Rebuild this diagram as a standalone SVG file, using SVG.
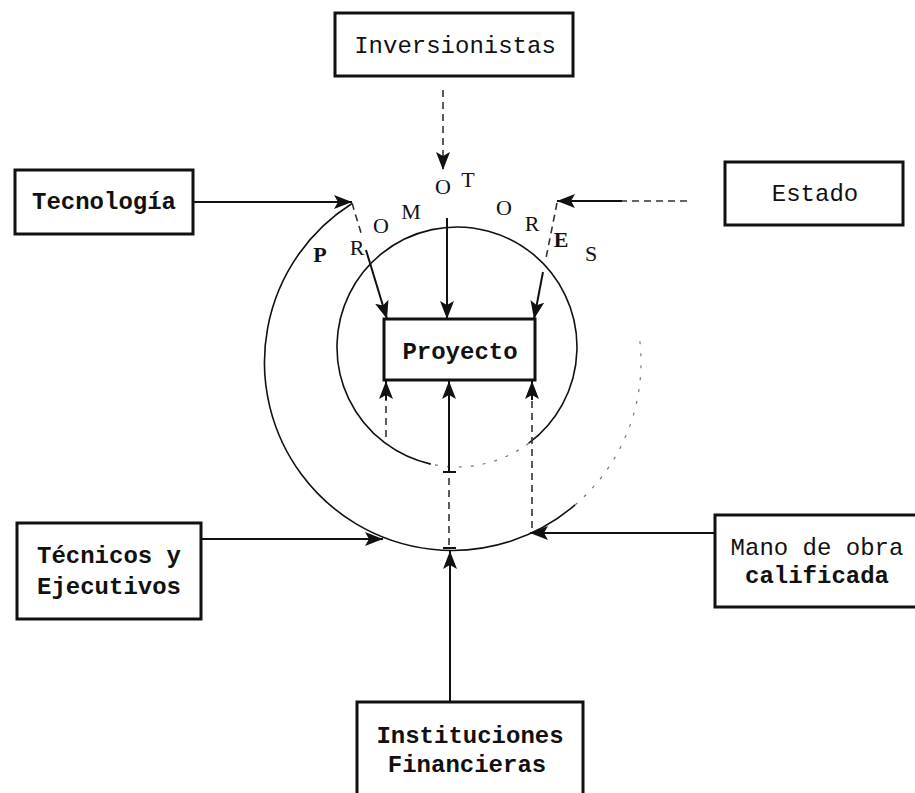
<svg xmlns="http://www.w3.org/2000/svg" width="915" height="793" viewBox="0 0 915 793">
<defs>
<style>
.box{fill:#fff;stroke:#111;stroke-width:3}
.t{font-family:"Liberation Mono","DejaVu Sans Mono",monospace;font-size:24px;fill:#111;text-anchor:middle}
.b{font-weight:bold}
.pl{font-family:"Liberation Serif","DejaVu Serif",serif;font-size:22px;fill:#111;text-anchor:middle}
.c{fill:none;stroke:#111;stroke-width:2}
.d{fill:none;stroke:#333;stroke-width:1.6;stroke-dasharray:7 5}
.ring{fill:none;stroke:#111;stroke-width:1.6}
.faint{fill:none;stroke:#777;stroke-width:1.2;stroke-dasharray:3 9}
</style>
<marker id="ah" markerUnits="userSpaceOnUse" markerWidth="20" markerHeight="14" refX="18" refY="7" orient="auto">
<path d="M0,0 L18,7 L0,14 L4,7 Z" fill="#111"/>
</marker>
</defs>
<rect width="915" height="793" fill="#fff"/>

<g id="promotores">
<path class="ring" d="M352,203.5 A188,188 0 1 0 575.1,504.9"/>
<path class="faint" d="M575.1,504.9 A188,188 0 0 0 639.2,335.8"/>
<path class="ring" d="M430.8,464.1 A120,120 0 1 1 528.7,443.2"/>
<path class="faint" d="M528.7,443.2 A120,120 0 0 1 430.8,464.1"/>
<text class="pl" x="320" y="262" font-weight="bold">P</text>
<text class="pl" x="357" y="255">R</text>
<text class="pl" x="381" y="233">O</text>
<text class="pl" x="411" y="219">M</text>
<text class="pl" x="443" y="194">O</text>
<text class="pl" x="468" y="187">T</text>
<text class="pl" x="504" y="215">O</text>
<text class="pl" x="532" y="231">R</text>
<text class="pl" x="561" y="247" font-weight="bold">E</text>
<text class="pl" x="591" y="261">S</text>
</g>

<g id="connectors">
<path class="d" d="M443,90 V170" marker-end="url(#ah)"/>
<path class="c" d="M193,202 H352" marker-end="url(#ah)"/>
<path class="d" d="M687,201 H620"/>
<path class="c" d="M622,201 H557" marker-end="url(#ah)"/>
<path class="c" d="M202,539 H383" marker-end="url(#ah)"/>
<path class="c" d="M715,533 H530" marker-end="url(#ah)"/>
<path class="c" d="M450,702 V551" marker-end="url(#ah)"/>
<path class="c" d="M447,218 V319" marker-end="url(#ah)"/>
<path class="d" d="M352,203 L362,236"/>
<path class="c" d="M366,250 L387,319" marker-end="url(#ah)"/>
<path class="d" d="M557,203 L546,258"/>
<path class="c" d="M543,272 L534,319" marker-end="url(#ah)"/>
<path class="d" d="M386,437 V400"/>
<path class="c" d="M386,400 V381" marker-end="url(#ah)"/>
<path class="c" d="M449,472 V381" marker-end="url(#ah)"/>
<path class="c" d="M443,472 H456"/>
<path class="d" d="M449,478 V547"/>
<path class="c" d="M443,548 H456"/>
<path class="d" d="M532,528 V400"/>
<path class="c" d="M532,400 V381" marker-end="url(#ah)"/>
</g>

<g id="inversionistas">
<rect class="box" x="335" y="13" width="238" height="63"/>
<text class="t" x="455" y="53">Inversionistas</text>
</g>
<g id="tecnologia">
<rect class="box" x="15" y="170" width="178" height="64"/>
<text class="t b" x="104" y="209">Tecnología</text>
</g>
<g id="estado">
<rect class="box" x="725" y="162" width="178" height="63"/>
<text class="t" x="815" y="201">Estado</text>
</g>
<g id="proyecto">
<rect class="box" x="384" y="319" width="151" height="61"/>
<text class="t b" x="460" y="359">Proyecto</text>
</g>
<g id="tecnicos">
<rect class="box" x="17" y="523" width="184" height="96"/>
<text class="t b" x="109" y="563">Técnicos y</text>
<text class="t b" x="109" y="594">Ejecutivos</text>
</g>
<g id="mano">
<rect class="box" x="715" y="515" width="210" height="92"/>
<text class="t" x="817" y="555">Mano de obra</text>
<text class="t b" x="817" y="583">calificada</text>
</g>
<g id="instituciones">
<rect class="box" x="357" y="702" width="226" height="100"/>
<text class="t b" x="470" y="743">Instituciones</text>
<text class="t b" x="467" y="772">Financieras</text>
</g>
</svg>
